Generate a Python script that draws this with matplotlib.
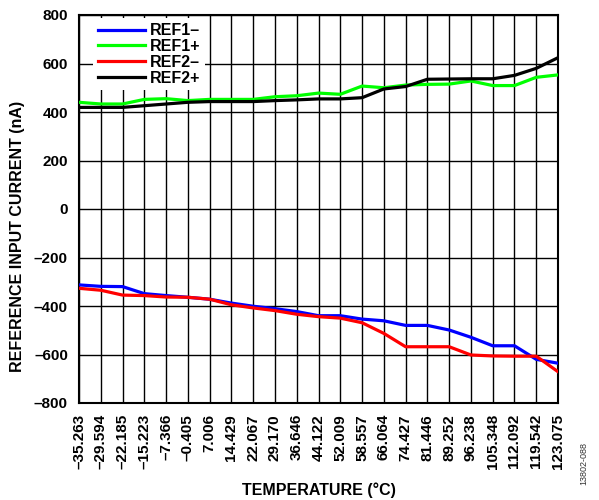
import numpy as np
import matplotlib
matplotlib.use("Agg")
import matplotlib.pyplot as plt

plt.rcParams["font.family"] = ["Liberation Sans", "DejaVu Sans"]
plt.rcParams["font.weight"] = "bold"

temps = ["-35.263", "-29.594", "-22.185", "-15.223", "-7.366", "-0.405",
         "7.006", "14.429", "22.067", "29.170", "36.646", "44.122",
         "52.009", "58.557", "66.064", "74.427", "81.446", "89.252",
         "96.238", "105.348", "112.092", "119.542", "123.075"]

ref1_minus = [-313, -319, -320, -349, -357, -364, -372, -388, -401, -411,
              -423, -440, -440, -454, -461, -480, -480, -499, -529, -564,
              -564, -620, -636]
ref1_plus = [440, 433, 433, 452, 455, 447, 452, 452, 452, 463, 467, 478,
             473, 507, 500, 511, 514, 515, 528, 509, 509, 543, 553]
ref2_minus = [-327, -335, -355, -357, -363, -364, -372, -395, -408, -419,
              -434, -444, -450, -469, -513, -568, -568, -568, -602, -606,
              -607, -607, -671]
ref2_plus = [419, 419, 419, 426, 433, 440, 443, 443, 443, 447, 450, 454,
             454, 459, 495, 505, 535, 536, 537, 537, 551, 580, 624]

series = [
    ("REF1\u2013", ref1_minus, "#0000ff"),
    ("REF1+", ref1_plus, "#00ff00"),
    ("REF2\u2013", ref2_minus, "#ff0000"),
    ("REF2+", ref2_plus, "#000000"),
]

fig = plt.figure(figsize=(5.99, 5.0), dpi=100)
ax = fig.add_axes([0.1319, 0.194, 0.7997, 0.776])

x = np.arange(len(temps))
for label, vals, color in series:
    ax.plot(x, vals, color=color, linewidth=2.3, label=label, zorder=3)

ax.set_xlim(0, len(temps) - 1)
ax.set_ylim(-800, 800)
ax.set_xticks(x)
ax.set_xticklabels([t.replace("-", "\u2013") for t in temps], rotation=90,
                   fontsize=11, fontweight="bold")
yt = np.arange(-800, 801, 200)
ax.set_yticks(yt)
ax.set_yticklabels([str(v).replace("-", "\u2013") for v in yt],
                   fontsize=11, fontweight="bold")
ax.tick_params(axis="y", length=0, pad=8)
ax.tick_params(axis="x", length=0, pad=8)
ax.grid(True, color="black", linewidth=1.0, zorder=1)
ax.set_axisbelow(True)
for sp in ax.spines.values():
    sp.set_linewidth(1.5)

ax.set_xlabel("TEMPERATURE (\u00b0C)", fontsize=11.5, fontweight="bold")
ax.xaxis.set_label_coords(0.5, -0.205)
ax.set_ylabel("REFERENCE INPUT CURRENT (nA)", fontsize=11.5,
              fontweight="bold")
ax.yaxis.set_label_coords(-0.113, 0.43)

leg = ax.legend(loc="upper left", bbox_to_anchor=(0.012, 1.012), frameon=True,
                fancybox=False, edgecolor="none", facecolor="white",
                framealpha=1.0, fontsize=11.5, handlelength=2.95,
                handletextpad=0.3, labelspacing=0.05, borderpad=0.3)
for t in leg.get_texts():
    t.set_fontweight("bold")

fig.text(0.975, 0.03, "13802-088", rotation=90, fontsize=6.5,
         fontweight="normal", color="#333333", ha="center", va="bottom")

fig.savefig("out.png", dpi=100)
